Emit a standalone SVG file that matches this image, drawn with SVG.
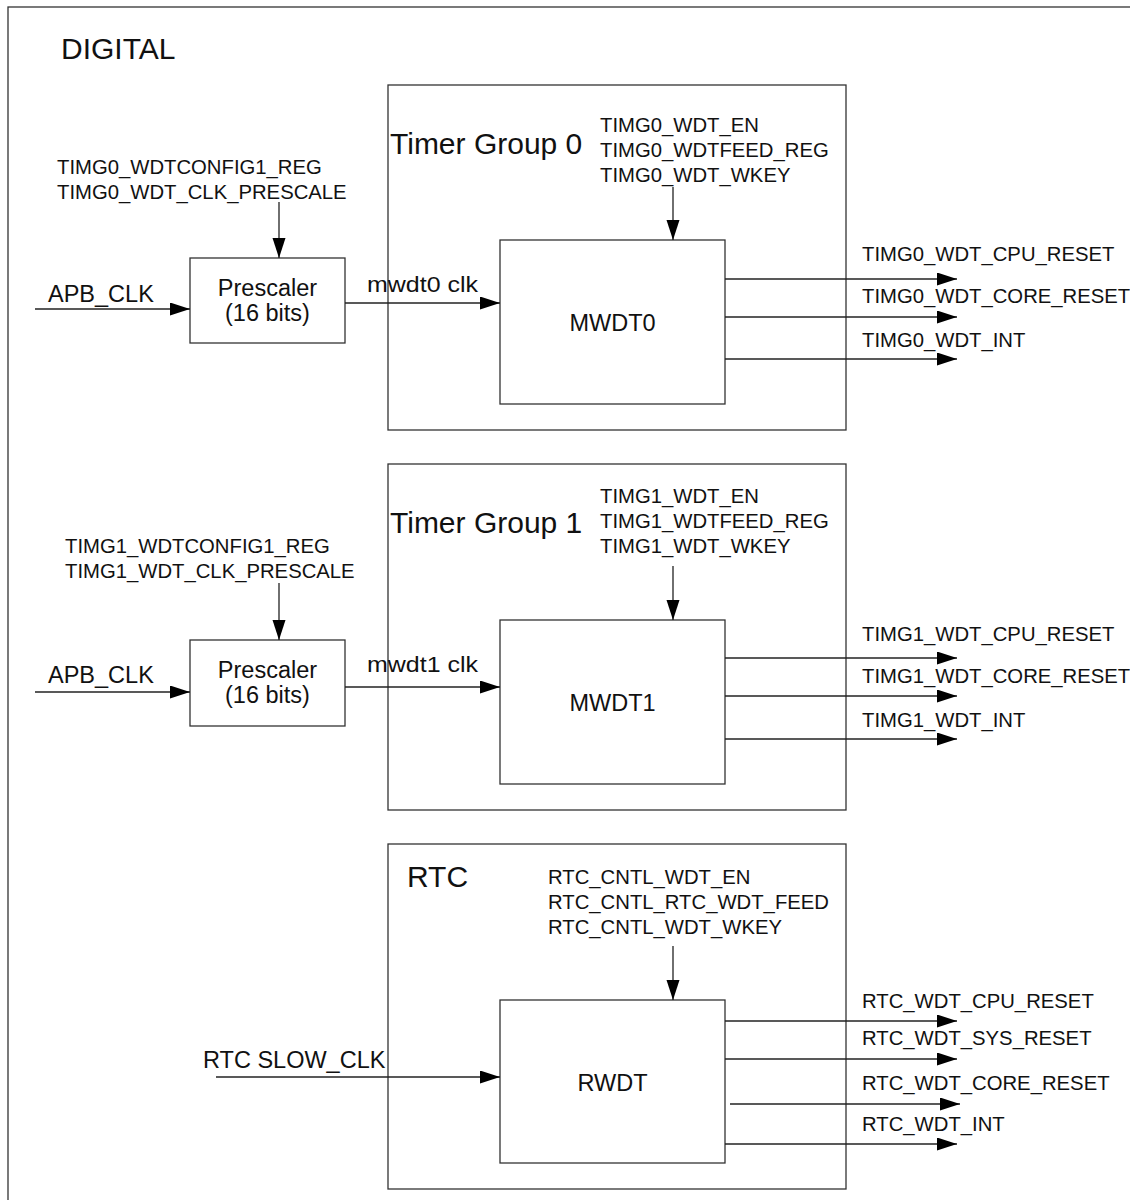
<svg xmlns="http://www.w3.org/2000/svg" width="1130" height="1200" viewBox="0 0 1130 1200">
<defs>
<marker id="ah" markerUnits="userSpaceOnUse" markerWidth="21" markerHeight="14" refX="20" refY="6.5" orient="auto">
<path d="M0,0 L20,6.5 L0,13 z" fill="#000"/>
</marker>
<style>
text{font-family:"Liberation Sans",Arial,Helvetica,sans-serif;fill:#111}
.t{font-size:30px}
.s{font-size:20.3px}
.m{font-size:23.5px}
.c{font-size:22px}
.box{fill:none;stroke:#333;stroke-width:1.3}
.ln{fill:none;stroke:#222;stroke-width:1.3}
.ar{fill:none;stroke:#222;stroke-width:1.3;marker-end:url(#ah)}
</style>
</defs>
<rect x="0" y="0" width="1130" height="1200" fill="#fff"/>
<g id="digital">
<rect class="box" x="8" y="7" width="1140" height="1210"/>
<text class="t" x="61" y="59">DIGITAL</text>
</g>

<g id="tg0">
<rect class="box" x="388" y="85" width="458" height="345"/>
<text class="t" x="390" y="154">Timer Group 0</text>
<text class="s" x="600" y="132">TIMG0_WDT_EN</text>
<text class="s" x="600" y="157">TIMG0_WDTFEED_REG</text>
<text class="s" x="600" y="182">TIMG0_WDT_WKEY</text>
</g>
<g id="cfg0">
<text class="s" x="57" y="174">TIMG0_WDTCONFIG1_REG</text>
<text class="s" x="57" y="199">TIMG0_WDT_CLK_PRESCALE</text>
</g>
<g id="prescaler0">
<rect class="box" x="190" y="258" width="155" height="85"/>
<text class="m" x="267.5" y="296" text-anchor="middle">Prescaler</text>
<text class="m" x="267.5" y="321" text-anchor="middle">(16 bits)</text>
</g>
<g id="mwdt0">
<rect class="box" x="500" y="240" width="225" height="164"/>
<text class="m" x="612.5" y="331" text-anchor="middle">MWDT0</text>
</g>

<g id="tg1">
<rect class="box" x="388" y="464" width="458" height="346"/>
<text class="t" x="390" y="533">Timer Group 1</text>
<text class="s" x="600" y="503">TIMG1_WDT_EN</text>
<text class="s" x="600" y="528">TIMG1_WDTFEED_REG</text>
<text class="s" x="600" y="553">TIMG1_WDT_WKEY</text>
</g>
<g id="cfg1">
<text class="s" x="65" y="553">TIMG1_WDTCONFIG1_REG</text>
<text class="s" x="65" y="578">TIMG1_WDT_CLK_PRESCALE</text>
</g>
<g id="prescaler1">
<rect class="box" x="190" y="640" width="155" height="86"/>
<text class="m" x="267.5" y="678" text-anchor="middle">Prescaler</text>
<text class="m" x="267.5" y="703" text-anchor="middle">(16 bits)</text>
</g>
<g id="mwdt1">
<rect class="box" x="500" y="620" width="225" height="164"/>
<text class="m" x="612.5" y="711" text-anchor="middle">MWDT1</text>
</g>

<g id="rtc">
<rect class="box" x="388" y="844" width="458" height="345"/>
<text class="t" x="407" y="887">RTC</text>
<text class="s" x="548" y="884">RTC_CNTL_WDT_EN</text>
<text class="s" x="548" y="909">RTC_CNTL_RTC_WDT_FEED</text>
<text class="s" x="548" y="934">RTC_CNTL_WDT_WKEY</text>
</g>
<g id="rwdt">
<rect class="box" x="500" y="1000" width="225" height="163"/>
<text class="m" x="612.5" y="1091" text-anchor="middle">RWDT</text>
</g>

<g id="connectors">
<line class="ar" x1="279" y1="202" x2="279" y2="258"/>
<line class="ar" x1="35" y1="309" x2="190" y2="309"/>
<line class="ar" x1="345" y1="303" x2="500" y2="303"/>
<line class="ar" x1="673" y1="187" x2="673" y2="240"/>
<line class="ar" x1="725" y1="279" x2="957" y2="279"/>
<line class="ar" x1="725" y1="317" x2="957" y2="317"/>
<line class="ar" x1="725" y1="359" x2="957" y2="359"/>

<line class="ar" x1="279" y1="583" x2="279" y2="640"/>
<line class="ar" x1="35" y1="692" x2="190" y2="692"/>
<line class="ar" x1="345" y1="687" x2="500" y2="687"/>
<line class="ar" x1="673" y1="566" x2="673" y2="620"/>
<line class="ar" x1="725" y1="658" x2="957" y2="658"/>
<line class="ar" x1="725" y1="696" x2="957" y2="696"/>
<line class="ar" x1="725" y1="739" x2="957" y2="739"/>

<line class="ar" x1="673" y1="946" x2="673" y2="1000"/>
<line class="ar" x1="216" y1="1077" x2="500" y2="1077"/>
<line class="ar" x1="725" y1="1021" x2="957" y2="1021"/>
<line class="ar" x1="725" y1="1059" x2="957" y2="1059"/>
<line class="ar" x1="730" y1="1104" x2="960" y2="1104"/>
<line class="ar" x1="725" y1="1144" x2="957" y2="1144"/>

<text class="m" x="48" y="302">APB_CLK</text>
<text class="c" x="367" y="292" textLength="111" lengthAdjust="spacingAndGlyphs">mwdt0 clk</text>
<text class="s" x="862" y="261">TIMG0_WDT_CPU_RESET</text>
<text class="s" x="862" y="303">TIMG0_WDT_CORE_RESET</text>
<text class="s" x="862" y="347">TIMG0_WDT_INT</text>

<text class="m" x="48" y="683">APB_CLK</text>
<text class="c" x="367" y="672" textLength="111" lengthAdjust="spacingAndGlyphs">mwdt1 clk</text>
<text class="s" x="862" y="641">TIMG1_WDT_CPU_RESET</text>
<text class="s" x="862" y="683">TIMG1_WDT_CORE_RESET</text>
<text class="s" x="862" y="727">TIMG1_WDT_INT</text>

<text class="m" x="203" y="1068">RTC SLOW_CLK</text>
<text class="s" x="862" y="1008">RTC_WDT_CPU_RESET</text>
<text class="s" x="862" y="1045">RTC_WDT_SYS_RESET</text>
<text class="s" x="862" y="1090">RTC_WDT_CORE_RESET</text>
<text class="s" x="862" y="1131">RTC_WDT_INT</text>
</g>
</svg>
